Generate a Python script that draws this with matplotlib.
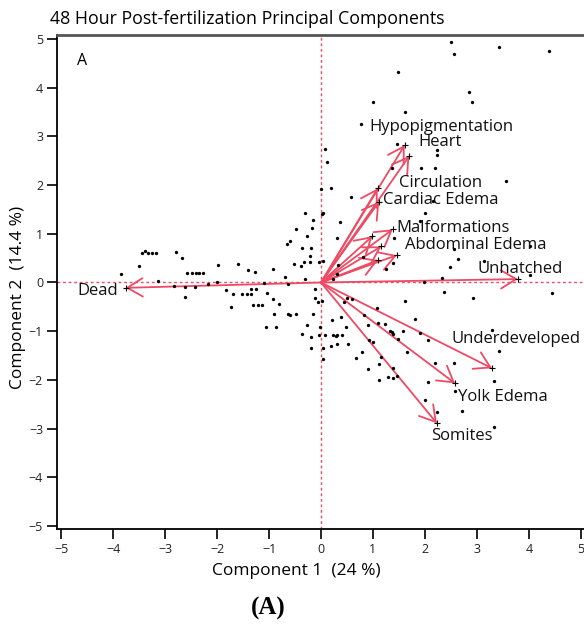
import numpy as np
import matplotlib
matplotlib.use("Agg")
import matplotlib.pyplot as plt

# observation scores (Component 1, Component 2)
score_x = [2.50, 3.42, 2.56, 4.39, 1.48, 2.84, 2.91, 1.01, 1.62, 0.77,
           1.46, 2.24, 2.24, 1.36, 1.93, 2.19, 0.07, 0.12, 3.56, 0.19,
           0.58, 0.03, 0.37, 2.15, 2.00, 1.91, 0.30, 1.41, 2.55, 2.63,
           3.13, 4.03, 2.49, 1.25, 1.38, 0.81, 0.33, 0.30, 0.23, 0.04,
           2.33, 1.98, 4.03, 2.37, 2.92, 4.45, 1.61, 1.08, 0.50, 0.59,
           0.44, 0.01, 0.22, 0.39, 0.48, 0.82, 0.91, 1.10, 1.23, 1.33,
           1.36, 1.39, 1.80, 1.57, 1.49, 1.91, 2.06, 0.08, 0.24, 0.29,
           0.31, 0.40, 0.19, 0.31, 0.51, 0.03, 0.03, 0.93, 1.00, 0.78,
           0.68, 1.16, 1.66, 1.12, 0.90, 1.38, 1.12, 1.29, 1.39, 1.46,
           2.05, 2.00, 3.29, 3.42, 2.20, 2.55, 2.58, 3.32, 2.71, 2.23,
           3.32,
           -3.85, -3.50, -3.44, -3.38, -3.33, -3.26, -3.18, -3.13, -2.79, -2.68,
           -2.83, -2.62, -2.61, -2.57, -2.49, -2.41, -2.34, -2.27, -2.43, -2.17,
           -1.98, -2.01, -1.83, -1.74, -1.69, -1.59, -1.52, -1.43, -1.35, -1.41,
           -1.34, -1.25, -1.27, -1.30, -1.22, -1.14, -1.09, -1.05, -1.03, -0.92,
           -0.92, -0.91, -0.87, -0.81, -0.69, -0.63, -0.65, -0.60, -0.64, -0.59,
           -0.52, -0.49, -0.48, -0.39, -0.36, -0.31, -0.27, -0.32, -0.30, -0.21,
           -0.21, -0.19, -0.16, -0.18, -0.15, -0.26, -0.12, -0.12, -0.05, -0.03,
           0.00, 0.02, -0.01, -0.37, -0.20, -0.04, -0.20]
score_y = [4.94, 4.84, 4.69, 4.75, 4.32, 3.91, 3.71, 3.70, 3.50, 3.25,
           2.84, 2.72, 2.62, 2.36, 2.36, 2.36, 2.74, 2.48, 2.09, 1.93,
           1.76, 1.42, 1.25, 1.67, 1.42, 1.27, 0.92, 0.91, 0.68, 0.48,
           0.45, 0.74, 0.32, 0.27, 0.39, 0.53, 0.36, 0.17, 0.07, 0.45,
           0.10, 0.02, 0.15, -0.19, -0.32, -0.22, -0.39, -0.53, -0.32, -0.33,
           -0.41, -0.38, -0.76, -0.70, -0.92, -0.67, -0.88, -0.84, -0.85, -0.99,
           -1.02, -1.06, -0.75, -1.00, -1.15, -1.03, -1.18, -1.08, -1.08, -1.10,
           -1.08, -1.08, -1.30, -1.27, -1.26, -1.35, -1.57, -1.18, -1.23, -1.43,
           -1.54, -1.52, -1.43, -1.67, -1.78, -1.75, -2.00, -1.95, -1.96, -1.91,
           -2.04, -2.42, -0.98, -1.41, -1.65, -1.66, -2.22, -2.02, -2.64, -2.65,
           -2.96,
           0.17, 0.34, 0.61, 0.65, 0.61, 0.61, 0.61, 0.04, 0.63, 0.51,
           -0.07, -0.10, -0.30, 0.19, 0.19, 0.19, 0.19, 0.19, -0.10, -0.03,
           0.36, 0.00, -0.15, -0.51, -0.24, 0.38, -0.24, -0.24, -0.24, 0.25,
           -0.14, -0.14, 0.22, -0.46, -0.46, -0.46, -0.02, -0.91, -0.22, 0.27,
           -0.33, -0.65, -0.92, -0.44, 0.11, -0.04, 0.79, 0.85, -0.65, -0.67,
           0.37, 1.10, -0.65, 0.34, 0.71, 1.42, 0.95, 0.43, 0.07, 0.54,
           0.43, 0.71, 1.28, 1.11, -0.65, -0.87, -0.13, -0.32, -0.40, 0.43,
           1.91, 1.41, -0.92, -1.06, -1.12, -1.07, -1.34]

# loading vectors
var_names = ["Dead", "Unhatched", "Hypopigmentation", "Heart", "Circulation",
             "Cardiac Edema", "Malformations", "", "", "", "Abdominal Edema",
             "Underdeveloped", "Yolk Edema", "Somites"]
load_x = [-3.76, 3.79, 1.61, 1.70, 1.09, 1.12, 1.38, 0.99, 1.16, 1.10, 1.46, 3.29, 2.58, 2.23]
load_y = [-0.11, 0.07, 2.82, 2.60, 1.93, 1.66, 1.09, 0.95, 0.74, 0.46, 0.56, -1.76, -2.07, -2.89]
label_x = [-4.68, 3.01, 0.94, 1.87, 1.50, 1.19, 1.46, 0, 0, 0, 1.62, 2.52, 2.64, 2.12]
label_y = [-0.17, 0.28, 3.19, 2.88, 2.04, 1.69, 1.12, 0, 0, 0, 0.77, -1.16, -2.35, -3.15]

red = '#ee4a64'
plt.rcParams['font.family'] = ['Open Sans', 'DejaVu Sans']

fig = plt.figure(figsize=(5.84, 6.26), dpi=100)
ax = fig.add_axes([57 / 584, 97 / 626, 528 / 584, 494 / 626])

ax.axhline(0, color=red, linestyle=(0, (2, 2)), lw=1.0, zorder=1)
ax.axvline(0, color=red, linestyle=(0, (2, 2)), lw=1.0, zorder=1)

ax.plot(score_x, score_y, 'o', color='black', ms=2.4, mew=0, zorder=3)

for name, x, y, tx, ty in zip(var_names, load_x, load_y, label_x, label_y):
    ax.annotate('', xy=(x, y), xytext=(0, 0),
                arrowprops=dict(arrowstyle='->,head_length=0.55,head_width=0.33',
                                color=red, lw=1.3, shrinkA=0, shrinkB=0,
                                mutation_scale=20), zorder=2)
    ax.plot(x, y, '+', color='black', ms=5, mew=0.8, zorder=4)
    if name:
        ax.text(tx, ty, name, fontsize=12, va='center', ha='left', color='#111111', zorder=5)

ax.text(-4.7, 4.55, 'A', fontsize=11.5, va='center', ha='left')

ax.set_xlim(-5.08, 5.08)
ax.set_ylim(-5.06, 5.08)
ax.set_xticks(np.arange(-5, 6, 1))
ax.set_yticks(np.arange(-5, 6, 1))
ax.tick_params(direction='out', length=7, width=1.2, labelsize=9, pad=3, labelcolor='#222222')
for s in ['left', 'bottom']:
    ax.spines[s].set_linewidth(1.3)
ax.spines['top'].set_color('#555555')
ax.spines['top'].set_linewidth(2)
ax.spines['right'].set_visible(False)

ax.set_xlabel('Component 1  (24 %)', fontsize=12.5)
ax.set_ylabel('Component 2  (14.4 %)', fontsize=12.5)
ax.xaxis.set_label_coords(0.453, -0.068)
ax.yaxis.set_label_coords(-0.058, 0.468)
fig.text(50 / 584, 1 - 19 / 626, '48 Hour Post-fertilization Principal Components',
         fontsize=12.8, va='center', ha='left')
fig.text(268 / 584, 1 - 608 / 626, '(A)', fontsize=18, fontweight='bold',
         family='Liberation Serif', va='center', ha='center')

fig.savefig('out.png', dpi=100)
